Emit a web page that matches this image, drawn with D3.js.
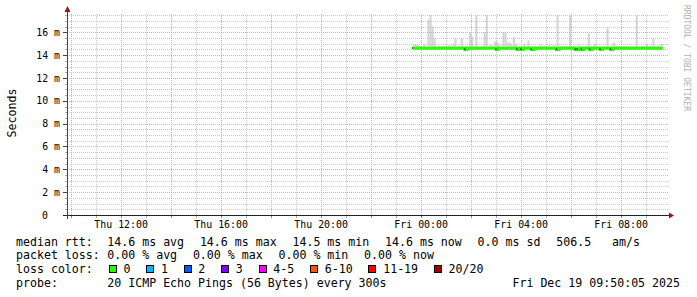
<!DOCTYPE html>
<html>
<head>
<meta charset="utf-8">
<script src="https://cdn.jsdelivr.net/npm/d3@7"></script>
<style>
  body { margin: 0; background: #fff; }
  text { font-family: "DejaVu Sans Mono", monospace; white-space: pre; }
</style>
</head>
<body>
<div id="chart"></div>
<script>
// time window of the graph (24h ending at the stamp)
const startTime = Date.UTC(2025, 11, 18, 9, 50, 5);
const endTime   = Date.UTC(2025, 11, 19, 9, 50, 5);
const firstSample = Date.UTC(2025, 11, 18, 23, 40, 0);
const stepSec = 300;
const yTop = 17.6;   // ms

// median rtt per 5 min sample (ms), one row = 1 hour
const medianMs = [
  14.6,14.6,14.6,14.6,14.6,14.6,14.6,14.6,14.6,14.6,14.6,14.6,
  14.6,14.6,14.6,14.6,14.6,14.6,14.6,14.6,14.6,14.6,14.6,14.6,
  14.6,14.5,14.6,14.6,14.6,14.6,14.6,14.6,14.6,14.6,14.6,14.6,
  14.6,14.6,14.6,14.6,14.5,14.6,14.6,14.6,14.6,14.6,14.6,14.6,
  14.6,14.6,14.5,14.6,14.5,14.6,14.6,14.6,14.6,14.5,14.6,14.6,
  14.6,14.6,14.6,14.6,14.6,14.6,14.6,14.6,14.6,14.5,14.6,14.6,
  14.6,14.6,14.6,14.6,14.6,14.6,14.5,14.5,14.6,14.5,14.6,14.6,
  14.6,14.5,14.6,14.6,14.6,14.6,14.5,14.6,14.6,14.6,14.6,14.5,
  14.6,14.6,14.6,14.6,14.6,14.6,14.6,14.6,14.6,14.6,14.6,14.6,
  14.6,14.6,14.6,14.6,14.6,14.6,14.6,14.6,14.6,14.6,14.6,14.6
];

// top of the smoke (slowest ping) per sample (ms)
const smokeMaxMs = [
  14.9,14.9,14.9,14.8,14.8,15.0,14.8,17.1,17.5,16.5,15.5,14.8,
  14.8,14.8,14.8,14.8,14.8,14.9,14.8,15.0,15.5,14.8,14.8,15.5,
  14.8,14.8,14.8,16.0,15.6,14.8,17.5,14.8,14.8,14.8,16.0,17.5,
  14.8,14.9,14.8,15.2,15.2,15.0,14.8,16.0,16.0,15.1,15.1,14.9,
  15.6,15.0,14.8,14.8,14.8,15.0,14.8,15.3,14.8,14.8,14.8,14.8,
  14.8,14.9,14.8,14.8,14.8,14.9,14.8,14.9,14.8,17.5,14.8,14.8,
  14.8,14.8,14.8,17.5,14.8,14.8,14.8,14.9,14.8,14.8,14.8,14.8,
  15.9,14.8,14.8,15.0,14.8,14.8,14.8,14.8,14.8,16.4,14.8,14.8,
  15.1,14.8,14.8,14.8,14.8,14.8,14.8,14.8,14.8,14.8,14.8,17.5,
  14.8,14.8,14.8,14.8,15.0,14.8,14.8,15.5,14.8,14.8,14.8,15.0
];

// legend
const rttLabel = "median rtt:";
const rttItems = ["14.6 ms avg", "14.6 ms max", "14.5 ms min", "14.6 ms now", "0.0 ms sd", "506.5   am/s"];
const lossLabel = "packet loss:";
const lossItems = ["0.00 % avg", "0.00 % max", "0.00 % min", "0.00 % now"];
const colorLabel = "loss color:";
const lossBins = ["0", "1", "2", "3", "4-5", "6-10", "11-19", "20/20"];
const lossColors = ["#26ff00", "#00b8ff", "#0059ff", "#7e00ff", "#ff00ff", "#ff5500", "#ff0000", "#a10000"];
const probeLabel = "probe:";
const probeText = "20 ICMP Echo Pings (56 Bytes) every 300s";
const stampText = "Fri Dec 19 09:50:05 2025";

const W = 697, H = 297;
const plot = {left: 67, right: 667, top: 14, bottom: 215};

const svg = d3.select("#chart").append("svg")
    .attr("width", W)
    .attr("height", H);

const x = d3.scaleUtc().domain([startTime, endTime]).range([plot.left, plot.right]);
const y = d3.scaleLinear().domain([0, yTop]).range([plot.bottom, plot.top]);

const samples = medianMs.map((m, i) => ({
  t: firstSample + i * stepSec * 1000,
  median: m,
  max: smokeMaxMs[i]
}));

// smoke
svg.append("g")
  .selectAll("rect")
  .data(samples)
  .join("rect")
    .attr("x", d => x(d.t))
    .attr("width", d => x(d.t + stepSec * 1000) - x(d.t))
    .attr("y", d => y(d.max))
    .attr("height", d => y(d.median) - y(d.max))
    .attr("fill", "#d4d4d4");

// grid
const grid = svg.append("g").attr("stroke-dasharray", "1,1").attr("shape-rendering", "crispEdges");
const yMinor = d3.range(0, yTop, 0.5);
grid.selectAll(".hg")
  .data(yMinor)
  .join("line")
    .attr("x1", plot.left).attr("x2", plot.right + 2)
    .attr("y1", d => Math.round(y(d)) + 0.5).attr("y2", d => Math.round(y(d)) + 0.5)
    .attr("stroke", d => d % 2 === 0 ? "#f0a0a0" : "#c8c8c8");

const hours = d3.utcHour.range(new Date(startTime), new Date(endTime));
grid.selectAll(".vg")
  .data(hours)
  .join("line")
    .attr("x1", d => Math.round(x(d)) + 0.5).attr("x2", d => Math.round(x(d)) + 0.5)
    .attr("y1", plot.top).attr("y2", plot.bottom)
    .attr("stroke", d => d.getUTCHours() % 2 === 0 ? "#f0a0a0" : "#c8c8c8");

// median line
const line = d3.line()
    .x(d => x(d.t))
    .y(d => y(d.median))
    .curve(d3.curveStepAfter);
const last = samples[samples.length - 1];
svg.append("path")
    .datum(samples.concat([{t: last.t + stepSec * 1000, median: last.median}]))
    .attr("d", line)
    .attr("fill", "none")
    .attr("stroke", lossColors[0])
    .attr("stroke-width", 3);

// small dark marks where the median steps down
svg.append("g")
  .selectAll("rect")
  .data(samples.filter((d, i) => i === 0 || d.median < 14.6))
  .join("rect")
    .attr("x", d => x(d.t) - 1)
    .attr("y", d => y(d.median) - 1)
    .attr("width", 1.5).attr("height", 1.5)
    .attr("fill", "#444");

// ticks on axes
svg.append("g")
  .selectAll("line")
  .data(hours)
  .join("line")
    .attr("x1", d => Math.round(x(d)) + 0.5).attr("x2", d => Math.round(x(d)) + 0.5)
    .attr("y1", plot.bottom).attr("y2", plot.bottom + 3)
    .attr("stroke", d => d.getUTCHours() % 2 === 0 ? "#d07070" : "#aaa");

svg.append("g")
  .selectAll("line")
  .data(yMinor)
  .join("line")
    .attr("x1", d => d % 2 === 0 ? plot.left - 4 : plot.left - 2)
    .attr("x2", plot.left)
    .attr("y1", d => Math.round(y(d)) + 0.5).attr("y2", d => Math.round(y(d)) + 0.5)
    .attr("stroke", d => d % 2 === 0 ? "#444" : "#aaa");

// axis lines + arrows
svg.append("line")
    .attr("x1", plot.left - 4).attr("x2", plot.right + 3)
    .attr("y1", plot.bottom + 0.5).attr("y2", plot.bottom + 0.5)
    .attr("stroke", "#222");
svg.append("line")
    .attr("x1", plot.left + 0.5).attr("x2", plot.left + 0.5)
    .attr("y1", plot.bottom + 4).attr("y2", plot.top - 3)
    .attr("stroke", "#444");
svg.append("path")
    .attr("d", `M${plot.right + 2},${plot.bottom - 2.5}L${plot.right + 7},${plot.bottom + 0.5}L${plot.right + 2},${plot.bottom + 3.5}Z`)
    .attr("fill", "#8b1a1a");
svg.append("path")
    .attr("d", `M${plot.left - 2.5},${plot.top - 2}L${plot.left + 0.5},${plot.top - 8}L${plot.left + 3.5},${plot.top - 2}Z`)
    .attr("fill", "#8b1a1a");

// x labels
const fmt = d3.utcFormat("%a %H:%M");
svg.append("g")
  .selectAll("text")
  .data(hours.filter(d => d.getUTCHours() % 4 === 0))
  .join("text")
    .attr("x", d => x(d))
    .attr("y", 228)
    .attr("text-anchor", "middle")
    .attr("font-size", "9.9px")
    .attr("fill", "#000")
    .text(fmt);

// y labels
svg.append("g")
  .selectAll("text")
  .data(d3.range(0, 17, 2))
  .join("text")
    .attr("x", d => d === 0 ? 48 : 60)
    .attr("y", d => y(d) + 3.7)
    .attr("text-anchor", "end")
    .attr("font-size", "9.9px")
    .attr("fill", "#000")
    .text(d => d === 0 ? "0" : d + " m");

svg.append("text")
    .attr("transform", "translate(15.5,113) rotate(-90)")
    .attr("text-anchor", "middle")
    .attr("font-size", "11.6px")
    .text("Seconds");

svg.append("text")
    .attr("transform", "translate(684,5) rotate(90)")
    .attr("font-size", "8px")
    .attr("fill", "#b0b0b0")
    .text("RRDTOOL / TOBI OETIKER");

// legend rows
const charW = 6.98, gap = 15.8, leftCol = 16, valCol = 107.3;
const rows = [245.5, 259.4, 273.4, 287.4];
const legend = svg.append("g").attr("font-size", "11.6px").attr("fill", "#000");

function textRow(label, items, yy) {
  legend.append("text").attr("x", leftCol).attr("y", yy).text(label);
  let xx = valCol;
  items.forEach(s => {
    legend.append("text").attr("x", xx).attr("y", yy).text(s);
    xx += s.length * charW + gap;
  });
}
textRow(rttLabel, rttItems, rows[0]);
textRow(lossLabel, lossItems, rows[1]);

legend.append("text").attr("x", leftCol).attr("y", rows[2]).text(colorLabel);
let bx = 108.7;
lossBins.forEach((b, i) => {
  legend.append("rect")
      .attr("x", Math.round(bx) + 0.5).attr("y", rows[2] - 7.9)
      .attr("width", 7).attr("height", 7)
      .attr("fill", lossColors[i])
      .attr("stroke", "#000");
  legend.append("text").attr("x", bx + 14.7).attr("y", rows[2]).text(b);
  bx += 14.7 + b.length * charW + gap;
});

legend.append("text").attr("x", leftCol).attr("y", rows[3]).text(probeLabel);
legend.append("text").attr("x", valCol).attr("y", rows[3]).text(probeText);
legend.append("text").attr("x", 680).attr("y", rows[3]).attr("text-anchor", "end").text(stampText);
</script>
</body>
</html>
